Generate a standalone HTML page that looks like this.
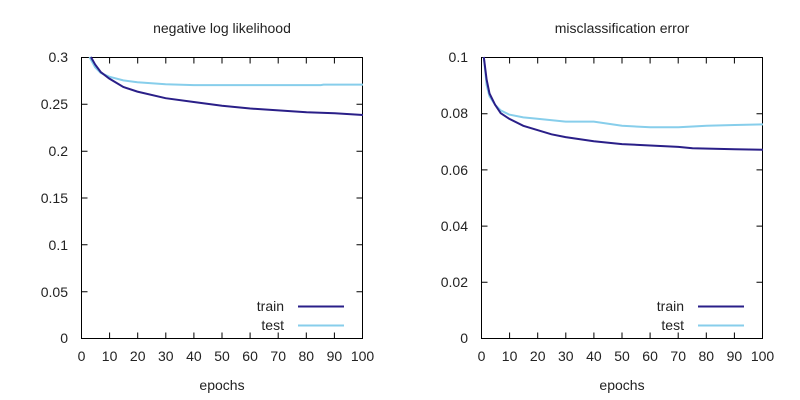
<!DOCTYPE html>
<html><head><meta charset="utf-8"><style>body{margin:0;background:#fff}svg{display:block}text{font-family:"Liberation Sans",sans-serif;font-size:14px;fill:#222}</style></head><body>
<svg width="800" height="400" xmlns="http://www.w3.org/2000/svg">
<g stroke="#000" stroke-width="1" fill="none">
<rect x="81.5" y="57.5" width="281" height="281"/>
<rect x="481.5" y="57.5" width="281" height="281"/>
<path d="M81.5 57.5h6M81.5 104.3h6M81.5 151.2h6M81.5 198h6M81.5 244.8h6M81.5 291.7h6M362.5 57.5h-6M362.5 104.3h-6M362.5 151.2h-6M362.5 198h-6M362.5 244.8h-6M362.5 291.7h-6
M109.6 338.5v-6M137.7 338.5v-6M165.8 338.5v-6M193.9 338.5v-6M222 338.5v-6M250.1 338.5v-6M278.2 338.5v-6M306.3 338.5v-6M334.4 338.5v-6M109.6 57.5v6M137.7 57.5v6M165.8 57.5v6M193.9 57.5v6M222 57.5v6M250.1 57.5v6M278.2 57.5v6M306.3 57.5v6M334.4 57.5v6"/>
<path d="M481.5 57.5h6M481.5 113.7h6M481.5 169.9h6M481.5 226.1h6M481.5 282.3h6M762.5 57.5h-6M762.5 113.7h-6M762.5 169.9h-6M762.5 226.1h-6M762.5 282.3h-6
M509.6 338.5v-6M537.7 338.5v-6M565.8 338.5v-6M593.9 338.5v-6M622 338.5v-6M650.1 338.5v-6M678.2 338.5v-6M706.3 338.5v-6M734.4 338.5v-6M509.6 57.5v6M537.7 57.5v6M565.8 57.5v6M593.9 57.5v6M622 57.5v6M650.1 57.5v6M678.2 57.5v6M706.3 57.5v6M734.4 57.5v6"/>
</g>
<g fill="none" stroke-width="2">
<polyline stroke="#87ceeb" points="89.5,57 95.1,67.3 100.7,72.9 109.2,76.7 123.3,80.4 137.4,82.3 165.6,84.2 193.8,85.1 320.7,85.1 323.5,84.6 363,84.6"/>
<polyline stroke="#2a1f88" points="90.9,57 95.1,64.5 100.7,72 109.2,78.5 123.3,87 137.4,91.6 165.6,98.2 193.8,102 222,105.7 250.2,108.5 278.4,110.4 306.6,112.3 334.8,113.2 363,115"/>
<polyline stroke="#87ceeb" points="483.8,57 486.6,85.1 489.5,96.3 495.1,104.8 500.7,110.4 509.2,114.6 523.3,117.4 537.4,118.8 565.6,121.6 593.8,121.6 622,125.8 650.2,127.3 678.4,127.3 706.6,125.8 734.8,125 763,124.4"/>
<polyline stroke="#2a1f88" points="483.8,57 486.6,79.5 489.5,93.5 495.1,104.8 500.7,113.2 509.2,118.8 523.3,125.8 537.4,130.1 551.5,134.3 565.6,137.1 593.8,141.3 622,144.1 650.2,145.5 678.4,146.9 692.5,148.3 734.8,149.2 763,149.7"/>
<path d="M298 306.5h46M698 306.5h46" stroke="#2a1f88"/>
<path d="M298 325.5h46M698 325.5h46" stroke="#87ceeb"/>
</g>
<text x="222" y="33" text-anchor="middle">negative log likelihood</text>
<text x="622" y="33" text-anchor="middle">misclassification error</text>
<g text-anchor="end">
<text x="68" y="62">0.3</text><text x="68" y="109">0.25</text><text x="68" y="156">0.2</text><text x="68" y="203">0.15</text><text x="68" y="250">0.1</text><text x="68" y="297">0.05</text><text x="68" y="343">0</text>
<text x="468" y="62">0.1</text><text x="468" y="118">0.08</text><text x="468" y="175">0.06</text><text x="468" y="231">0.04</text><text x="468" y="287">0.02</text><text x="468" y="343">0</text>
<text x="284" y="311">train</text><text x="284" y="330">test</text>
<text x="684" y="311">train</text><text x="684" y="330">test</text>
</g>
<g text-anchor="middle">
<text x="81.5" y="361">0</text><text x="109.6" y="361">10</text><text x="137.7" y="361">20</text><text x="165.8" y="361">30</text><text x="193.9" y="361">40</text><text x="222" y="361">50</text><text x="250.1" y="361">60</text><text x="278.2" y="361">70</text><text x="306.3" y="361">80</text><text x="334.4" y="361">90</text><text x="362.5" y="361">100</text>
<text x="481.5" y="361">0</text><text x="509.6" y="361">10</text><text x="537.7" y="361">20</text><text x="565.8" y="361">30</text><text x="593.9" y="361">40</text><text x="622" y="361">50</text><text x="650.1" y="361">60</text><text x="678.2" y="361">70</text><text x="706.3" y="361">80</text><text x="734.4" y="361">90</text><text x="762.5" y="361">100</text>
<text x="222" y="390">epochs</text><text x="622" y="390">epochs</text>
</g>
</svg>
</body></html>
